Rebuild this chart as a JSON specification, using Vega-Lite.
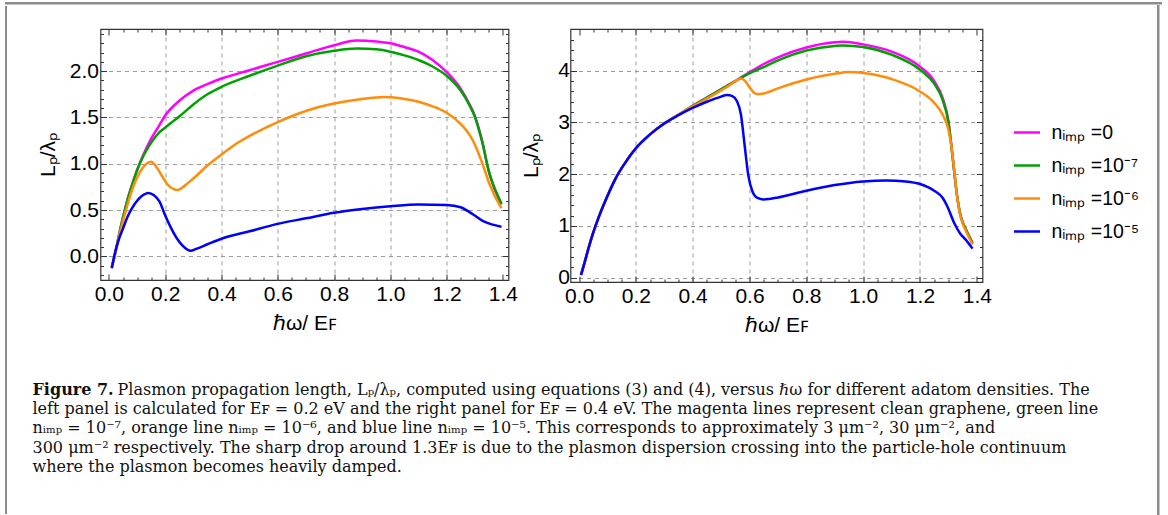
{
"$schema": "https://vega.github.io/schema/vega-lite/v6.json",
"background": "white",
"padding": {"left": 5, "top": 2, "right": 0, "bottom": 0},
"config": {
  "view": {"stroke": "#333333", "strokeWidth": 1.2},
  "axis": {"labelFont": "Liberation Sans", "labelFontSize": 21, "labelColor": "#000000", "titleFont": "Liberation Sans", "titleFontSize": 21, "titleFontWeight": "normal", "titleColor": "#000000", "tickColor": "#333333", "tickWidth": 1, "gridColor": "#9a9a9a", "gridDash": [4, 4], "gridWidth": 1, "domain": false, "labelOverlap": false, "labelFlush": false, "labelBound": false}
},
"datasets": {
  "left": [
    {"n":"0","x":0.01,"y":-0.12},{"n":"0","x":0.02,"y":0.0},{"n":"0","x":0.035,"y":0.22},{"n":"0","x":0.05,"y":0.42},{"n":"0","x":0.065,"y":0.6},{"n":"0","x":0.08,"y":0.75},{"n":"0","x":0.1,"y":0.93},{"n":"0","x":0.12,"y":1.08},{"n":"0","x":0.15,"y":1.27},{"n":"0","x":0.18,"y":1.42},{"n":"0","x":0.2,"y":1.52},{"n":"0","x":0.25,"y":1.68},{"n":"0","x":0.3,"y":1.79},{"n":"0","x":0.35,"y":1.86},{"n":"0","x":0.4,"y":1.92},{"n":"0","x":0.5,"y":2.01},{"n":"0","x":0.6,"y":2.1},{"n":"0","x":0.7,"y":2.19},{"n":"0","x":0.8,"y":2.28},{"n":"0","x":0.88,"y":2.33},{"n":"0","x":0.95,"y":2.32},{"n":"0","x":1.0,"y":2.3},{"n":"0","x":1.05,"y":2.26},{"n":"0","x":1.1,"y":2.21},{"n":"0","x":1.15,"y":2.12},{"n":"0","x":1.2,"y":1.99},{"n":"0","x":1.25,"y":1.81},{"n":"0","x":1.28,"y":1.65},{"n":"0","x":1.3,"y":1.52},{"n":"0","x":1.32,"y":1.32},{"n":"0","x":1.33,"y":1.2},{"n":"0","x":1.34,"y":1.05},{"n":"0","x":1.35,"y":0.92},{"n":"0","x":1.36,"y":0.82},{"n":"0","x":1.37,"y":0.73},{"n":"0","x":1.38,"y":0.66},{"n":"0","x":1.395,"y":0.57},
    {"n":"10⁻⁷","x":0.01,"y":-0.12},{"n":"10⁻⁷","x":0.02,"y":0.0},{"n":"10⁻⁷","x":0.035,"y":0.22},{"n":"10⁻⁷","x":0.05,"y":0.42},{"n":"10⁻⁷","x":0.065,"y":0.6},{"n":"10⁻⁷","x":0.08,"y":0.75},{"n":"10⁻⁷","x":0.1,"y":0.93},{"n":"10⁻⁷","x":0.12,"y":1.07},{"n":"10⁻⁷","x":0.14,"y":1.18},{"n":"10⁻⁷","x":0.16,"y":1.27},{"n":"10⁻⁷","x":0.18,"y":1.34},{"n":"10⁻⁷","x":0.2,"y":1.39},{"n":"10⁻⁷","x":0.22,"y":1.44},{"n":"10⁻⁷","x":0.25,"y":1.51},{"n":"10⁻⁷","x":0.3,"y":1.64},{"n":"10⁻⁷","x":0.35,"y":1.75},{"n":"10⁻⁷","x":0.4,"y":1.83},{"n":"10⁻⁷","x":0.5,"y":1.95},{"n":"10⁻⁷","x":0.6,"y":2.06},{"n":"10⁻⁷","x":0.7,"y":2.16},{"n":"10⁻⁷","x":0.8,"y":2.22},{"n":"10⁻⁷","x":0.88,"y":2.245},{"n":"10⁻⁷","x":0.95,"y":2.235},{"n":"10⁻⁷","x":1.0,"y":2.21},{"n":"10⁻⁷","x":1.05,"y":2.17},{"n":"10⁻⁷","x":1.1,"y":2.12},{"n":"10⁻⁷","x":1.15,"y":2.05},{"n":"10⁻⁷","x":1.2,"y":1.95},{"n":"10⁻⁷","x":1.25,"y":1.79},{"n":"10⁻⁷","x":1.28,"y":1.64},{"n":"10⁻⁷","x":1.3,"y":1.51},{"n":"10⁻⁷","x":1.32,"y":1.31},{"n":"10⁻⁷","x":1.33,"y":1.19},{"n":"10⁻⁷","x":1.34,"y":1.05},{"n":"10⁻⁷","x":1.35,"y":0.92},{"n":"10⁻⁷","x":1.36,"y":0.82},{"n":"10⁻⁷","x":1.37,"y":0.74},{"n":"10⁻⁷","x":1.38,"y":0.67},{"n":"10⁻⁷","x":1.395,"y":0.56},
    {"n":"10⁻⁶","x":0.01,"y":-0.12},{"n":"10⁻⁶","x":0.02,"y":0.0},{"n":"10⁻⁶","x":0.035,"y":0.2},{"n":"10⁻⁶","x":0.05,"y":0.38},{"n":"10⁻⁶","x":0.07,"y":0.6},{"n":"10⁻⁶","x":0.09,"y":0.78},{"n":"10⁻⁶","x":0.11,"y":0.91},{"n":"10⁻⁶","x":0.13,"y":0.99},{"n":"10⁻⁶","x":0.15,"y":1.02},{"n":"10⁻⁶","x":0.17,"y":0.96},{"n":"10⁻⁶","x":0.19,"y":0.86},{"n":"10⁻⁶","x":0.21,"y":0.77},{"n":"10⁻⁶","x":0.23,"y":0.725},{"n":"10⁻⁶","x":0.245,"y":0.715},{"n":"10⁻⁶","x":0.26,"y":0.74},{"n":"10⁻⁶","x":0.28,"y":0.79},{"n":"10⁻⁶","x":0.3,"y":0.84},{"n":"10⁻⁶","x":0.35,"y":0.98},{"n":"10⁻⁶","x":0.4,"y":1.1},{"n":"10⁻⁶","x":0.45,"y":1.21},{"n":"10⁻⁶","x":0.5,"y":1.3},{"n":"10⁻⁶","x":0.6,"y":1.45},{"n":"10⁻⁶","x":0.7,"y":1.57},{"n":"10⁻⁶","x":0.8,"y":1.65},{"n":"10⁻⁶","x":0.9,"y":1.7},{"n":"10⁻⁶","x":0.98,"y":1.72},{"n":"10⁻⁶","x":1.05,"y":1.7},{"n":"10⁻⁶","x":1.1,"y":1.67},{"n":"10⁻⁶","x":1.15,"y":1.62},{"n":"10⁻⁶","x":1.2,"y":1.55},{"n":"10⁻⁶","x":1.25,"y":1.43},{"n":"10⁻⁶","x":1.28,"y":1.32},{"n":"10⁻⁶","x":1.3,"y":1.21},{"n":"10⁻⁶","x":1.32,"y":1.06},{"n":"10⁻⁶","x":1.33,"y":0.98},{"n":"10⁻⁶","x":1.34,"y":0.89},{"n":"10⁻⁶","x":1.35,"y":0.8},{"n":"10⁻⁶","x":1.36,"y":0.73},{"n":"10⁻⁶","x":1.37,"y":0.66},{"n":"10⁻⁶","x":1.38,"y":0.6},{"n":"10⁻⁶","x":1.395,"y":0.52},
    {"n":"10⁻⁵","x":0.01,"y":-0.13},{"n":"10⁻⁵","x":0.02,"y":0.02},{"n":"10⁻⁵","x":0.035,"y":0.18},{"n":"10⁻⁵","x":0.05,"y":0.3},{"n":"10⁻⁵","x":0.065,"y":0.42},{"n":"10⁻⁵","x":0.08,"y":0.51},{"n":"10⁻⁵","x":0.1,"y":0.6},{"n":"10⁻⁵","x":0.12,"y":0.66},{"n":"10⁻⁵","x":0.14,"y":0.685},{"n":"10⁻⁵","x":0.16,"y":0.66},{"n":"10⁻⁵","x":0.18,"y":0.59},{"n":"10⁻⁵","x":0.2,"y":0.44},{"n":"10⁻⁵","x":0.22,"y":0.31},{"n":"10⁻⁵","x":0.24,"y":0.2},{"n":"10⁻⁵","x":0.26,"y":0.12},{"n":"10⁻⁵","x":0.28,"y":0.07},{"n":"10⁻⁵","x":0.29,"y":0.06},{"n":"10⁻⁵","x":0.31,"y":0.08},{"n":"10⁻⁵","x":0.35,"y":0.13},{"n":"10⁻⁵","x":0.4,"y":0.19},{"n":"10⁻⁵","x":0.5,"y":0.27},{"n":"10⁻⁵","x":0.6,"y":0.35},{"n":"10⁻⁵","x":0.7,"y":0.41},{"n":"10⁻⁵","x":0.8,"y":0.47},{"n":"10⁻⁵","x":0.9,"y":0.51},{"n":"10⁻⁵","x":1.0,"y":0.54},{"n":"10⁻⁵","x":1.1,"y":0.56},{"n":"10⁻⁵","x":1.2,"y":0.555},{"n":"10⁻⁵","x":1.25,"y":0.53},{"n":"10⁻⁵","x":1.28,"y":0.48},{"n":"10⁻⁵","x":1.3,"y":0.44},{"n":"10⁻⁵","x":1.33,"y":0.38},{"n":"10⁻⁵","x":1.36,"y":0.345},{"n":"10⁻⁵","x":1.395,"y":0.32}
  ],
  "right": [
    {"n":"0","x":0.007,"y":0.05},{"n":"0","x":0.02,"y":0.3},{"n":"0","x":0.035,"y":0.6},{"n":"0","x":0.05,"y":0.87},{"n":"0","x":0.07,"y":1.18},{"n":"0","x":0.1,"y":1.58},{"n":"0","x":0.13,"y":1.93},{"n":"0","x":0.16,"y":2.2},{"n":"0","x":0.2,"y":2.5},{"n":"0","x":0.25,"y":2.77},{"n":"0","x":0.3,"y":2.98},{"n":"0","x":0.35,"y":3.15},{"n":"0","x":0.4,"y":3.32},{"n":"0","x":0.45,"y":3.48},{"n":"0","x":0.5,"y":3.64},{"n":"0","x":0.55,"y":3.8},{"n":"0","x":0.6,"y":3.97},{"n":"0","x":0.65,"y":4.13},{"n":"0","x":0.7,"y":4.26},{"n":"0","x":0.8,"y":4.45},{"n":"0","x":0.9,"y":4.55},{"n":"0","x":0.93,"y":4.56},{"n":"0","x":1.0,"y":4.51},{"n":"0","x":1.1,"y":4.37},{"n":"0","x":1.2,"y":4.08},{"n":"0","x":1.25,"y":3.8},{"n":"0","x":1.28,"y":3.47},{"n":"0","x":1.3,"y":3.03},{"n":"0","x":1.31,"y":2.58},{"n":"0","x":1.32,"y":2.08},{"n":"0","x":1.33,"y":1.6},{"n":"0","x":1.34,"y":1.27},{"n":"0","x":1.35,"y":1.07},{"n":"0","x":1.36,"y":0.95},{"n":"0","x":1.385,"y":0.67},
    {"n":"10⁻⁷","x":0.007,"y":0.05},{"n":"10⁻⁷","x":0.02,"y":0.3},{"n":"10⁻⁷","x":0.035,"y":0.6},{"n":"10⁻⁷","x":0.05,"y":0.87},{"n":"10⁻⁷","x":0.07,"y":1.18},{"n":"10⁻⁷","x":0.1,"y":1.58},{"n":"10⁻⁷","x":0.13,"y":1.93},{"n":"10⁻⁷","x":0.16,"y":2.2},{"n":"10⁻⁷","x":0.2,"y":2.5},{"n":"10⁻⁷","x":0.25,"y":2.77},{"n":"10⁻⁷","x":0.3,"y":2.98},{"n":"10⁻⁷","x":0.35,"y":3.15},{"n":"10⁻⁷","x":0.4,"y":3.32},{"n":"10⁻⁷","x":0.45,"y":3.48},{"n":"10⁻⁷","x":0.5,"y":3.64},{"n":"10⁻⁷","x":0.55,"y":3.8},{"n":"10⁻⁷","x":0.6,"y":3.95},{"n":"10⁻⁷","x":0.65,"y":4.07},{"n":"10⁻⁷","x":0.7,"y":4.2},{"n":"10⁻⁷","x":0.8,"y":4.39},{"n":"10⁻⁷","x":0.9,"y":4.48},{"n":"10⁻⁷","x":0.93,"y":4.49},{"n":"10⁻⁷","x":1.0,"y":4.46},{"n":"10⁻⁷","x":1.1,"y":4.31},{"n":"10⁻⁷","x":1.2,"y":4.02},{"n":"10⁻⁷","x":1.25,"y":3.75},{"n":"10⁻⁷","x":1.28,"y":3.43},{"n":"10⁻⁷","x":1.3,"y":3.0},{"n":"10⁻⁷","x":1.31,"y":2.56},{"n":"10⁻⁷","x":1.32,"y":2.07},{"n":"10⁻⁷","x":1.33,"y":1.6},{"n":"10⁻⁷","x":1.34,"y":1.27},{"n":"10⁻⁷","x":1.35,"y":1.07},{"n":"10⁻⁷","x":1.36,"y":0.95},{"n":"10⁻⁷","x":1.385,"y":0.67},
    {"n":"10⁻⁶","x":0.007,"y":0.05},{"n":"10⁻⁶","x":0.02,"y":0.3},{"n":"10⁻⁶","x":0.035,"y":0.6},{"n":"10⁻⁶","x":0.05,"y":0.87},{"n":"10⁻⁶","x":0.07,"y":1.18},{"n":"10⁻⁶","x":0.1,"y":1.58},{"n":"10⁻⁶","x":0.13,"y":1.93},{"n":"10⁻⁶","x":0.16,"y":2.2},{"n":"10⁻⁶","x":0.2,"y":2.5},{"n":"10⁻⁶","x":0.25,"y":2.77},{"n":"10⁻⁶","x":0.3,"y":2.98},{"n":"10⁻⁶","x":0.35,"y":3.15},{"n":"10⁻⁶","x":0.4,"y":3.31},{"n":"10⁻⁶","x":0.45,"y":3.46},{"n":"10⁻⁶","x":0.5,"y":3.62},{"n":"10⁻⁶","x":0.53,"y":3.72},{"n":"10⁻⁶","x":0.55,"y":3.8},{"n":"10⁻⁶","x":0.57,"y":3.85},{"n":"10⁻⁶","x":0.585,"y":3.8},{"n":"10⁻⁶","x":0.6,"y":3.68},{"n":"10⁻⁶","x":0.615,"y":3.58},{"n":"10⁻⁶","x":0.63,"y":3.545},{"n":"10⁻⁶","x":0.65,"y":3.56},{"n":"10⁻⁶","x":0.7,"y":3.66},{"n":"10⁻⁶","x":0.8,"y":3.83},{"n":"10⁻⁶","x":0.9,"y":3.94},{"n":"10⁻⁶","x":0.95,"y":3.975},{"n":"10⁻⁶","x":1.0,"y":3.955},{"n":"10⁻⁶","x":1.1,"y":3.84},{"n":"10⁻⁶","x":1.2,"y":3.6},{"n":"10⁻⁶","x":1.25,"y":3.38},{"n":"10⁻⁶","x":1.28,"y":3.15},{"n":"10⁻⁶","x":1.3,"y":2.86},{"n":"10⁻⁶","x":1.31,"y":2.56},{"n":"10⁻⁶","x":1.32,"y":2.1},{"n":"10⁻⁶","x":1.33,"y":1.6},{"n":"10⁻⁶","x":1.34,"y":1.25},{"n":"10⁻⁶","x":1.35,"y":1.05},{"n":"10⁻⁶","x":1.36,"y":0.92},{"n":"10⁻⁶","x":1.385,"y":0.64},
    {"n":"10⁻⁵","x":0.007,"y":0.05},{"n":"10⁻⁵","x":0.02,"y":0.3},{"n":"10⁻⁵","x":0.035,"y":0.6},{"n":"10⁻⁵","x":0.05,"y":0.87},{"n":"10⁻⁵","x":0.07,"y":1.18},{"n":"10⁻⁵","x":0.1,"y":1.58},{"n":"10⁻⁵","x":0.13,"y":1.93},{"n":"10⁻⁵","x":0.16,"y":2.2},{"n":"10⁻⁵","x":0.2,"y":2.5},{"n":"10⁻⁵","x":0.25,"y":2.77},{"n":"10⁻⁵","x":0.3,"y":2.98},{"n":"10⁻⁵","x":0.35,"y":3.14},{"n":"10⁻⁵","x":0.4,"y":3.28},{"n":"10⁻⁵","x":0.45,"y":3.4},{"n":"10⁻⁵","x":0.5,"y":3.5},{"n":"10⁻⁵","x":0.52,"y":3.53},{"n":"10⁻⁵","x":0.54,"y":3.51},{"n":"10⁻⁵","x":0.555,"y":3.42},{"n":"10⁻⁵","x":0.57,"y":3.15},{"n":"10⁻⁵","x":0.583,"y":2.55},{"n":"10⁻⁵","x":0.596,"y":1.97},{"n":"10⁻⁵","x":0.61,"y":1.67},{"n":"10⁻⁵","x":0.628,"y":1.54},{"n":"10⁻⁵","x":0.65,"y":1.51},{"n":"10⁻⁵","x":0.67,"y":1.52},{"n":"10⁻⁵","x":0.7,"y":1.55},{"n":"10⁻⁵","x":0.8,"y":1.68},{"n":"10⁻⁵","x":0.9,"y":1.79},{"n":"10⁻⁵","x":1.0,"y":1.86},{"n":"10⁻⁵","x":1.08,"y":1.88},{"n":"10⁻⁵","x":1.15,"y":1.86},{"n":"10⁻⁵","x":1.2,"y":1.81},{"n":"10⁻⁵","x":1.25,"y":1.68},{"n":"10⁻⁵","x":1.28,"y":1.54},{"n":"10⁻⁵","x":1.296,"y":1.38},{"n":"10⁻⁵","x":1.32,"y":1.06},{"n":"10⁻⁵","x":1.343,"y":0.84},{"n":"10⁻⁵","x":1.36,"y":0.74},{"n":"10⁻⁵","x":1.385,"y":0.56}
  ],
  "caption": [
    {"line":1,"part":"head","text":"Figure 7."},
    {"line":1,"part":"first","text":"Plasmon propagation length, Lₚ/λₚ, computed using equations (3) and (4), versus ℏω for different adatom densities. The"},
    {"line":2,"part":"body","text":"left panel is calculated for Eꜰ = 0.2 eV and the right panel for Eꜰ = 0.4 eV. The magenta lines represent clean graphene, green line"},
    {"line":3,"part":"body","text":"nᵢₘₚ = 10⁻⁷, orange line nᵢₘₚ = 10⁻⁶, and blue line nᵢₘₚ = 10⁻⁵. This corresponds to approximately 3 μm⁻², 30 μm⁻², and"},
    {"line":4,"part":"body","text":"300 μm⁻² respectively. The sharp drop around 1.3Eꜰ is due to the plasmon dispersion crossing into the particle-hole continuum"},
    {"line":5,"part":"body","text":"where the plasmon becomes heavily damped."}
  ]
},
"vconcat": [
  {
    "width": 1155, "height": 0.5,
    "view": {"stroke": "#8c8c8c", "strokeWidth": 2},
    "data": {"values": []},
    "mark": "point"
  },
  {
    "hconcat": [
      {
        "width": 8.5, "height": 508,
        "view": {"stroke": "#8c8c8c", "strokeWidth": 2, "strokeDash": [0, 525, 508, 10]},
        "data": {"values": []},
        "mark": "point"
      },
      {
        "vconcat": [
          {
            "width": 1, "height": 1,
            "view": {"stroke": null},
            "data": {"values": []},
            "mark": "point"
          },
          {
            "hconcat": [
              {
                "width": 408, "height": 251,
                "data": {"name": "left"},
                "layer": [
                  {
                    "mark": {"type": "line", "strokeWidth": 2.5, "interpolate": "monotone"},
                    "encoding": {
                      "x": {"field": "x", "type": "quantitative", "scale": {"domain": [-0.03, 1.42], "nice": false, "zero": false},
                        "axis": {"orient": "bottom", "title": "ℏω/ Eꜰ", "titlePadding": 8, "labelPadding": 9,
                          "values": [0,0.05,0.1,0.15,0.2,0.25,0.3,0.35,0.4,0.45,0.5,0.55,0.6,0.65,0.7,0.75,0.8,0.85,0.9,0.95,1,1.05,1.1,1.15,1.2,1.25,1.3,1.35,1.4],
                          "labelExpr": "abs(datum.value*5 - round(datum.value*5)) < 0.001 ? format(datum.value, '.1f') : ''",
                          "labelFontSize": {"condition": {"test": "abs(datum.value*5 - round(datum.value*5)) < 0.001", "value": 21}, "value": 0},
                          "tickSize": {"condition": {"test": "abs(datum.value*5 - round(datum.value*5)) < 0.001", "value": -6}, "value": -3},
                          "grid": true,
                          "gridOpacity": {"condition": {"test": "abs(datum.value*5 - round(datum.value*5)) < 0.001 && datum.value > 0.01 && datum.value < 1.39", "value": 1}, "value": 0}}},
                      "y": {"field": "y", "type": "quantitative", "scale": {"domain": [-0.256, 2.455], "nice": false, "zero": false},
                        "axis": {"orient": "left", "title": "Lₚ/λₚ", "titlePadding": 11, "labelPadding": 8,
                          "values": [-0.2,-0.1,0,0.1,0.2,0.3,0.4,0.5,0.6,0.7,0.8,0.9,1,1.1,1.2,1.3,1.4,1.5,1.6,1.7,1.8,1.9,2,2.1,2.2,2.3,2.4],
                          "labelExpr": "abs(datum.value*2 - round(datum.value*2)) < 0.001 ? format(datum.value, '.1f') : ''",
                          "labelFontSize": {"condition": {"test": "abs(datum.value*2 - round(datum.value*2)) < 0.001", "value": 21}, "value": 0},
                          "tickSize": {"condition": {"test": "abs(datum.value*2 - round(datum.value*2)) < 0.001", "value": -6}, "value": -3},
                          "grid": true,
                          "gridOpacity": {"condition": {"test": "abs(datum.value*2 - round(datum.value*2)) < 0.001", "value": 1}, "value": 0}}},
                      "color": {"field": "n", "type": "nominal", "scale": {"domain": ["0","10⁻⁷","10⁻⁶","10⁻⁵"], "range": ["#FF00FF","#00A000","#FF8C0A","#0000FF"]}, "legend": null}
                    }
                  },
                  {
                    "mark": {"type": "point", "opacity": 0},
                    "encoding": {
                      "x": {"field": "x", "type": "quantitative",
                        "axis": {"orient": "top", "title": null, "labels": false, "grid": false,
                          "values": [0,0.05,0.1,0.15,0.2,0.25,0.3,0.35,0.4,0.45,0.5,0.55,0.6,0.65,0.7,0.75,0.8,0.85,0.9,0.95,1,1.05,1.1,1.15,1.2,1.25,1.3,1.35,1.4],
                          "tickSize": {"condition": {"test": "abs(datum.value*5 - round(datum.value*5)) < 0.001", "value": -6}, "value": -3}}},
                      "y": {"field": "y", "type": "quantitative",
                        "axis": {"orient": "right", "title": null, "labels": false, "grid": false,
                          "values": [-0.2,-0.1,0,0.1,0.2,0.3,0.4,0.5,0.6,0.7,0.8,0.9,1,1.1,1.2,1.3,1.4,1.5,1.6,1.7,1.8,1.9,2,2.1,2.2,2.3,2.4],
                          "tickSize": {"condition": {"test": "abs(datum.value*2 - round(datum.value*2)) < 0.001", "value": -6}, "value": -3}}}
                    }
                  }
                ],
                "resolve": {"axis": {"x": "independent", "y": "independent"}}
              },
              {
                "width": 412, "height": 253,
                "data": {"name": "right"},
                "layer": [
                  {
                    "mark": {"type": "line", "strokeWidth": 2.5, "interpolate": "monotone"},
                    "encoding": {
                      "x": {"field": "x", "type": "quantitative", "scale": {"domain": [-0.03, 1.42], "nice": false, "zero": false},
                        "axis": {"orient": "bottom", "title": "ℏω/ Eꜰ", "titlePadding": 8, "labelPadding": 9,
                          "values": [0,0.05,0.1,0.15,0.2,0.25,0.3,0.35,0.4,0.45,0.5,0.55,0.6,0.65,0.7,0.75,0.8,0.85,0.9,0.95,1,1.05,1.1,1.15,1.2,1.25,1.3,1.35,1.4],
                          "labelExpr": "abs(datum.value*5 - round(datum.value*5)) < 0.001 ? format(datum.value, '.1f') : ''",
                          "labelFontSize": {"condition": {"test": "abs(datum.value*5 - round(datum.value*5)) < 0.001", "value": 21}, "value": 0},
                          "tickSize": {"condition": {"test": "abs(datum.value*5 - round(datum.value*5)) < 0.001", "value": -6}, "value": -3},
                          "grid": true,
                          "gridOpacity": {"condition": {"test": "abs(datum.value*5 - round(datum.value*5)) < 0.001 && datum.value > 0.01 && datum.value < 1.39", "value": 1}, "value": 0}}},
                      "y": {"field": "y", "type": "quantitative", "scale": {"domain": [-0.085, 4.807], "nice": false, "zero": false},
                        "axis": {"orient": "left", "title": "Lₚ/λₚ", "titlePadding": 16, "labelPadding": 7,
                          "values": [0,0.2,0.4,0.6,0.8,1,1.2,1.4,1.6,1.8,2,2.2,2.4,2.6,2.8,3,3.2,3.4,3.6,3.8,4,4.2,4.4,4.6,4.8],
                          "labelExpr": "abs(datum.value - round(datum.value)) < 0.001 ? format(datum.value, '.0f') : ''",
                          "labelFontSize": {"condition": {"test": "abs(datum.value - round(datum.value)) < 0.001", "value": 21}, "value": 0},
                          "tickSize": {"condition": {"test": "abs(datum.value - round(datum.value)) < 0.001", "value": -6}, "value": -3},
                          "grid": true,
                          "gridOpacity": {"condition": {"test": "abs(datum.value - round(datum.value)) < 0.001", "value": 1}, "value": 0}}},
                      "color": {"field": "n", "type": "nominal", "scale": {"domain": ["0","10⁻⁷","10⁻⁶","10⁻⁵"], "range": ["#FF00FF","#00A000","#FF8C0A","#0000FF"]},
                        "legend": {"orient": "none", "legendX": 442, "legendY": 89, "title": null, "padding": 0, "symbolType": "stroke", "symbolSize": 676, "symbolStrokeWidth": 2.5, "rowPadding": 9, "labelOffset": 10, "labelFont": "Liberation Sans", "labelFontSize": 19.5, "labelColor": "#000000", "labelExpr": "'nᵢₘₚ =' + datum.label"}}
                    }
                  },
                  {
                    "mark": {"type": "point", "opacity": 0},
                    "encoding": {
                      "x": {"field": "x", "type": "quantitative",
                        "axis": {"orient": "top", "title": null, "labels": false, "grid": false,
                          "values": [0,0.05,0.1,0.15,0.2,0.25,0.3,0.35,0.4,0.45,0.5,0.55,0.6,0.65,0.7,0.75,0.8,0.85,0.9,0.95,1,1.05,1.1,1.15,1.2,1.25,1.3,1.35,1.4],
                          "tickSize": {"condition": {"test": "abs(datum.value*5 - round(datum.value*5)) < 0.001", "value": -6}, "value": -3}}},
                      "y": {"field": "y", "type": "quantitative",
                        "axis": {"orient": "right", "title": null, "labels": false, "grid": false,
                          "values": [0,0.2,0.4,0.6,0.8,1,1.2,1.4,1.6,1.8,2,2.2,2.4,2.6,2.8,3,3.2,3.4,3.6,3.8,4,4.2,4.4,4.6,4.8],
                          "tickSize": {"condition": {"test": "abs(datum.value - round(datum.value)) < 0.001", "value": -6}, "value": -3}}}
                    }
                  }
                ],
                "resolve": {"axis": {"x": "independent", "y": "independent"}}
              }
            ],
            "spacing": 62,
            "bounds": "flush",
            "resolve": {"scale": {"color": "independent"}, "legend": {"color": "independent"}}
          },
          {
            "width": 1000, "height": 120,
            "view": {"stroke": null},
            "data": {"name": "caption"},
            "encoding": {
              "y": {"field": "line", "type": "quantitative", "scale": {"domain": [-0.766, 5.468], "reverse": true, "nice": false, "zero": false}, "axis": null},
              "x": {"datum": 0, "type": "quantitative", "scale": {"domain": [68, 1068], "nice": false, "zero": false}, "axis": null},
              "text": {"field": "text"}
            },
            "layer": [
              {"transform": [{"filter": "datum.part == 'head'"}], "mark": {"type": "text", "align": "left", "baseline": "middle", "font": "DejaVu Serif", "fontSize": 16, "fontWeight": "bold", "color": "#111111"}},
              {"transform": [{"filter": "datum.part == 'first'"}], "mark": {"type": "text", "align": "left", "baseline": "middle", "font": "DejaVu Serif", "fontSize": 16, "dx": 85, "color": "#111111"}},
              {"transform": [{"filter": "datum.part == 'body'"}], "mark": {"type": "text", "align": "left", "baseline": "middle", "font": "DejaVu Serif", "fontSize": 16, "color": "#111111"}}
            ]
          }
        ],
        "spacing": 20
      },
      {
        "width": 0.5, "height": 508,
        "view": {"stroke": "#8c8c8c", "strokeWidth": 2},
        "data": {"values": []},
        "mark": "point"
      }
    ],
    "spacing": 16.5
  }
],
"spacing": 0
}
